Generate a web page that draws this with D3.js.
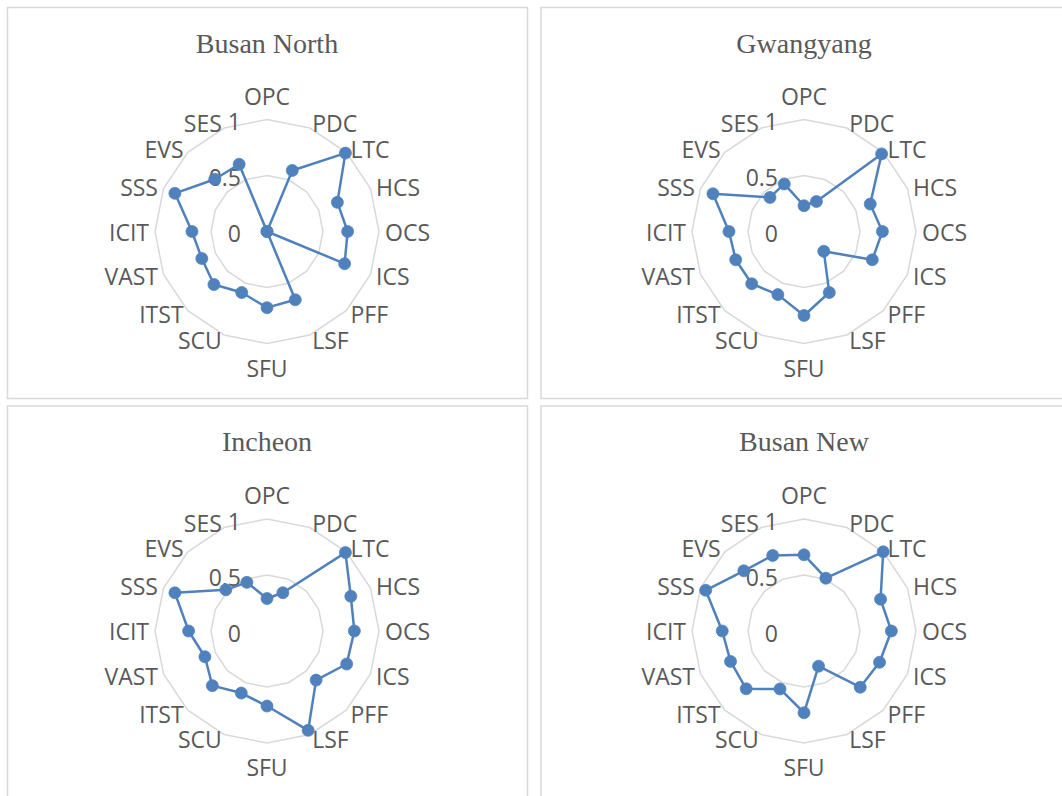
<!DOCTYPE html>
<html>
<head>
<meta charset="utf-8">
<script src="https://cdn.jsdelivr.net/npm/d3@7"></script>
<style>
  html, body { margin: 0; padding: 0; background: #ffffff; }
  svg { display: block; }
</style>
</head>
<body>
<svg id="chart" width="1062" height="796"></svg>
<script>
// ---- data ----
const axes = ["OPC","PDC","LTC","HCS","OCS","ICS","PFF","LSF","SFU","SCU","ITST","VAST","ICIT","SSS","EVS","SES"];
const tickValues = [0, 0.5, 1];
const titles = ["Busan North", "Gwangyang", "Incheon", "Busan New"];
const busanNorth = [0, 0.59, 0.99, 0.68, 0.72, 0.75, 0, 0.66, 0.68, 0.59, 0.67, 0.63, 0.67, 0.89, 0.66, 0.65];
const gwangyang  = [0.23, 0.29, 0.98, 0.64, 0.70, 0.66, 0.25, 0.59, 0.75, 0.61, 0.66, 0.66, 0.67, 0.88, 0.43, 0.46];
const incheon    = [0.29, 0.37, 0.99, 0.81, 0.78, 0.77, 0.62, 0.96, 0.67, 0.60, 0.69, 0.60, 0.70, 0.89, 0.52, 0.47];
const busanNew   = [0.68, 0.51, 1.00, 0.74, 0.78, 0.73, 0.71, 0.34, 0.73, 0.56, 0.73, 0.71, 0.73, 0.95, 0.76, 0.73];
const seriesList = [busanNorth, gwangyang, incheon, busanNew];

// ---- layout ----
const panels = [
  {x: 7.5, y: 7.5, w: 520, h: 391, cx: 267, cy: 231.5},
  {x: 541, y: 7.5, w: 526, h: 391, cx: 804, cy: 231.5},
  {x: 7.5, y: 406, w: 520, h: 391, cx: 267, cy: 631},
  {x: 541, y: 406, w: 526, h: 391, cx: 804, cy: 631}
];
const R = 112;
const lineColor = "#4f81bd";
const gridColor = "#d9d9d9";
const textColor = "#595959";
const labelFont = "'Open Sans', 'Noto Sans', sans-serif";

const svg = d3.select("#chart");
const rScale = d3.scaleLinear().domain([0, 1]).range([0, R]);
const aScale = d3.scaleLinear().domain([0, axes.length]).range([0, 2 * Math.PI]);

panels.forEach((p, pi) => {
  const values = seriesList[pi];
  svg.append("rect")
    .attr("x", p.x).attr("y", p.y).attr("width", p.w).attr("height", p.h)
    .attr("fill", "#ffffff").attr("stroke", gridColor).attr("stroke-width", 1.5);

  svg.append("text")
    .attr("x", p.cx).attr("y", p.y + 45)
    .attr("text-anchor", "middle")
    .attr("font-family", "'Liberation Serif', 'Times New Roman', serif")
    .attr("font-size", 28)
    .attr("fill", textColor)
    .text(titles[pi]);

  const g = svg.append("g").attr("transform", `translate(${p.cx},${p.cy})`);

  // grid rings (polygons)
  const ringLine = d3.lineRadial()
    .angle((d, i) => aScale(i))
    .radius(d => rScale(d))
    .curve(d3.curveLinearClosed);
  tickValues.filter(t => t > 0).forEach(t => {
    g.append("path")
      .attr("d", ringLine(axes.map(() => t)))
      .attr("fill", "none")
      .attr("stroke", gridColor)
      .attr("stroke-width", 1.5);
  });

  // tick labels
  tickValues.forEach(t => {
    g.append("text")
      .attr("x", -26)
      .attr("y", -rScale(t) + 1.5)
      .attr("text-anchor", "end")
      .attr("dominant-baseline", "central")
      .attr("font-family", labelFont)
      .attr("font-size", 23)
      .attr("fill", textColor)
      .text(t);
  });

  // category labels
  axes.forEach((name, i) => {
    const a = aScale(i);
    const s = Math.sin(a), c = Math.cos(a);
    let x, y, anchor;
    if (Math.abs(s) < 0.1) {
      x = 0;
      y = -(R + 24) * c;
      anchor = "middle";
    } else {
      x = (R + 6) * s;
      y = -(R + 5) * c;
      anchor = s > 0 ? "start" : "end";
    }
    g.append("text")
      .attr("x", x).attr("y", y)
      .attr("text-anchor", anchor)
      .attr("dominant-baseline", "central")
      .attr("font-family", labelFont)
      .attr("font-size", 23)
      .attr("fill", textColor)
      .text(name);
  });

  // data line
  const dataLine = d3.lineRadial()
    .angle((d, i) => aScale(i))
    .radius(d => rScale(d))
    .curve(d3.curveLinearClosed);
  g.append("path")
    .attr("d", dataLine(values))
    .attr("fill", "none")
    .attr("stroke", lineColor)
    .attr("stroke-width", 2.5)
    .attr("stroke-linejoin", "round");

  g.selectAll("circle.pt")
    .data(values)
    .enter().append("circle")
    .attr("class", "pt")
    .attr("cx", (d, i) => rScale(d) * Math.sin(aScale(i)))
    .attr("cy", (d, i) => -rScale(d) * Math.cos(aScale(i)))
    .attr("r", 6)
    .attr("fill", lineColor)
    .attr("stroke", lineColor)
    .attr("stroke-width", 0.75);
});
</script>
</body>
</html>
